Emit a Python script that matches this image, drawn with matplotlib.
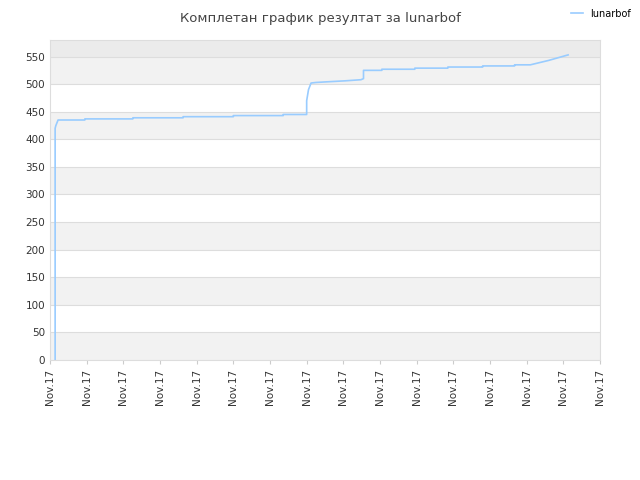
import matplotlib
matplotlib.use('Agg')
import matplotlib.pyplot as plt

# x in tick-interval units (0..15), scores
x = [0.14, 0.14, 0.16, 0.19, 0.22, 0.95, 0.95, 2.26, 2.26, 3.63, 3.63, 5.0, 5.0, 6.36, 6.36,
     7.0, 7.0, 7.05, 7.12, 7.25, 7.5, 8.05, 8.05, 8.48, 8.48, 8.55, 8.55, 9.05, 9.05, 9.95, 9.95,
     10.85, 10.85, 11.8, 11.8, 12.67, 12.67, 13.1, 13.6, 14.13]
y = [0, 420, 425, 430, 435, 435, 437, 437, 439, 439, 441, 441, 443, 443, 445,
     445, 470, 490, 502, 503, 504, 506, 506, 508, 508, 510, 525, 525, 527, 527, 529,
     529, 531, 531, 533, 533, 535, 535, 543, 553]
ticklabels = ['Nov.17'] * 16

fig = plt.figure(figsize=(6.4, 4.8), dpi=100)
ax = fig.add_axes([50/640, 120/480, 550/640, 320/480])
for lo in range(0, 550, 100):
    ax.axhspan(lo, lo + 50, color='#f2f2f2', lw=0)
ax.axhspan(550, 580, color='#ebebeb', lw=0)
for v in range(50, 600, 50):
    ax.axhline(v, color='#dddddd', lw=0.8)
ax.plot(x, y, color='#99ccff', lw=1.2, label='lunarbof')
ax.set_xlim(0, 15)
ax.set_ylim(0, 580)
ax.set_yticks(range(0, 551, 50))
ax.set_xticks(range(16))
ax.set_xticklabels(ticklabels, rotation=90, fontsize=7.5, color='#333333')
ax.tick_params(axis='y', labelsize=7.5, colors='#333333', length=0)
ax.tick_params(axis='x', length=3, color='#cccccc')
for s in ax.spines.values():
    s.set_color('#dddddd')
fig.text(0.5, 0.975, 'Комплетан график резултат за lunarbof', ha='center', va='top',
         fontsize=9.5, color='#444444')
fig.legend(loc='upper right', bbox_to_anchor=(1.0, 1.0), frameon=False, fontsize=7,
           handlelength=1.2)
fig.savefig('out.png')
